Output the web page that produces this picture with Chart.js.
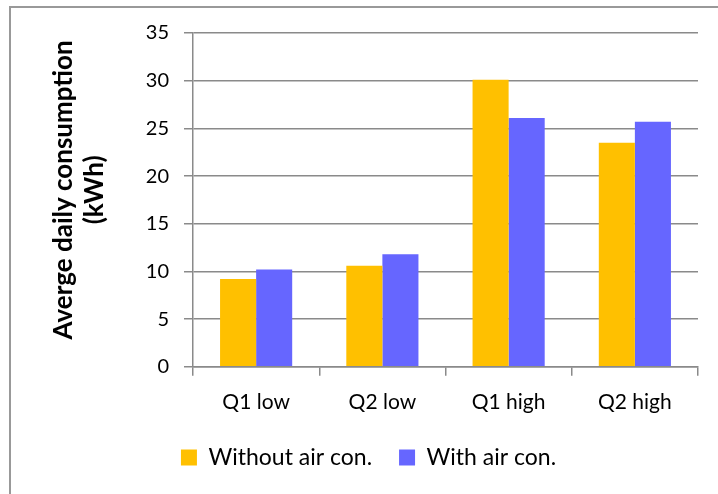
<!DOCTYPE html>
<html>
<head>
<meta charset="utf-8">
<script src="https://cdn.jsdelivr.net/npm/chart.js@4/dist/chart.umd.min.js"></script>
<style>
  html, body { margin: 0; padding: 0; background: #fff; overflow: hidden; }
  #wrap { position: relative; width: 718px; height: 494px; }
  #frame { position: absolute; left: 9px; top: 6px; width: 900px; height: 700px;
           border: 2px solid #999; box-sizing: border-box; }
  canvas { position: absolute; left: 0; top: 0; }
</style>
</head>
<body>
<div id="wrap">
  <div id="frame"></div>
  <canvas id="c" width="718" height="494"></canvas>
</div>
<script>
// Quarter / consumption-level groups
const categories = ['Q1 low', 'Q2 low', 'Q1 high', 'Q2 high'];
// Average daily consumption in kWh
const withoutAirCon = [9.2, 10.6, 30.1, 23.5];
const withAirCon = [10.2, 11.8, 26.1, 25.7];
// Value axis
const yMin = 0;
const yMax = 35;
const yStep = 5;
const yTitleLines = ['Averge daily consumption', '(kWh)'];

const FONT = 'Lato, "Open Sans", sans-serif';

// Rotated two-line value-axis title
const axisTitle = {
  id: 'axisTitle',
  afterDraw(chart) {
    const ctx = chart.ctx;
    const area = chart.chartArea;
    const cy = (area.top + area.bottom) / 2 - 10;
    ctx.save();
    ctx.fillStyle = '#000';
    ctx.font = 'bold 26px ' + FONT;
    ctx.textAlign = 'center';
    ctx.textBaseline = 'middle';
    const xs = [64, 95];
    yTitleLines.forEach((line, i) => {
      ctx.save();
      ctx.translate(xs[i], cy);
      ctx.rotate(-Math.PI / 2);
      ctx.fillText(line, 0, 0);
      ctx.restore();
    });
    ctx.restore();
  }
};

// Lift the legend row a little closer to the category labels
const legendLift = {
  id: 'legendLift',
  beforeDraw(chart) {
    const lg = chart.legend;
    if (lg && !lg._lifted) {
      lg.top -= 10;
      lg.bottom -= 10;
      lg._lifted = true;
    }
  }
};

new Chart(document.getElementById('c'), {
  type: 'bar',
  data: {
    labels: categories,
    datasets: [
      { label: 'Without air con.', data: withoutAirCon, backgroundColor: '#FFC000',
        borderWidth: 0, barPercentage: 1.0, categoryPercentage: 2 / 3.5 },
      { label: 'With air con.', data: withAirCon, backgroundColor: '#6666FF',
        borderWidth: 0, barPercentage: 1.0, categoryPercentage: 2 / 3.5 }
    ]
  },
  options: {
    responsive: false,
    animation: false,
    devicePixelRatio: 1,
    layout: { padding: { left: 39, right: 20, top: 33, bottom: 5 } },
    plugins: {
      tooltip: { enabled: false },
      legend: {
        position: 'bottom',
        labels: {
          font: { family: FONT, size: 23 },
          color: '#000',
          boxWidth: 16,
          boxHeight: 16,
          padding: 27
        }
      }
    },
    scales: {
      x: {
        grid: { display: true, drawOnChartArea: false, drawTicks: true, tickLength: 9,
                color: '#8a8a8a', lineWidth: 1.5, offset: true },
        border: { display: true, color: '#8a8a8a', width: 1.5 },
        ticks: { font: { family: FONT, size: 21 }, color: '#000', padding: 14 }
      },
      y: {
        min: yMin,
        max: yMax,
        afterFit(scale) { scale.width = 154; },
        grid: { color: '#8a8a8a', lineWidth: 1.5, tickLength: 9 },
        border: { display: true, color: '#8a8a8a', width: 1.5 },
        ticks: { stepSize: yStep, font: { family: FONT, size: 20 }, color: '#000', padding: 15 }
      }
    }
  },
  plugins: [axisTitle, legendLift]
});
</script>
</body>
</html>
